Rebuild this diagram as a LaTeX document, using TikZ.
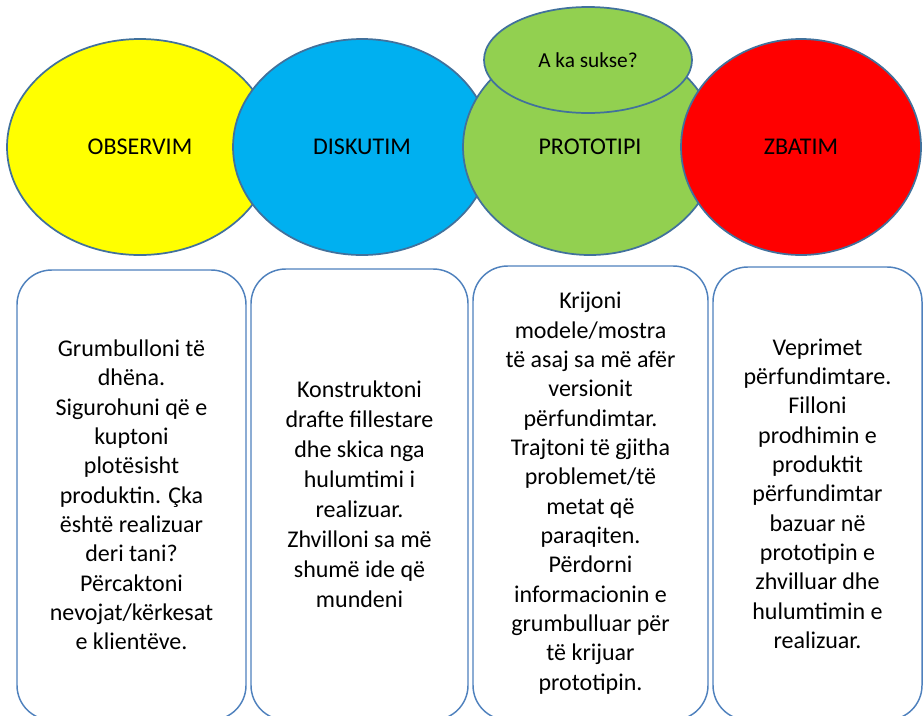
\documentclass[tikz,border=0pt]{standalone}
\usepackage{fontspec}
\setmainfont{Carlito}
\usetikzlibrary{shapes.geometric}

\definecolor{edgeblue}{RGB}{65,113,156}
\definecolor{boxblue}{RGB}{79,129,189}
\definecolor{fillyellow}{RGB}{255,255,0}
\definecolor{fillblue}{RGB}{0,176,240}
\definecolor{fillgreen}{RGB}{146,208,80}
\definecolor{fillred}{RGB}{255,0,0}

\tikzset{
  stage/.style={ellipse, draw=edgeblue, line width=1.3pt, inner sep=0pt,
    font=\fontsize{18}{22}\selectfont, text=black},
  stepcard/.style={draw=boxblue, line width=1.1pt, rounded corners=26pt,
    fill=white, inner sep=0pt, align=center, text=black,
    font=\fontsize{18}{22}\selectfont},
}

\begin{document}
\begin{tikzpicture}[x=0.75pt, y=-0.75pt]
  \useasboundingbox (0,0) rectangle (923,715);
  \clip (0,0) rectangle (923,715);

  % stage ellipses, later ones overlap earlier ones
  \node[stage, fill=fillyellow, minimum width={266*0.75pt}, minimum height={216*0.75pt}]
    (obs) at (140,147) {OBSERVIM};
  \node[stage, fill=fillblue, minimum width={258*0.75pt}, minimum height={216*0.75pt}]
    (dis) at (362,147) {DISKUTIM};
  \node[stage, fill=fillgreen, minimum width={254*0.75pt}, minimum height={216*0.75pt}]
    (pro) at (590,147) {PROTOTIPI};
  \node[stage, fill=fillgreen, minimum width={208*0.75pt}, minimum height={106*0.75pt},
    font=\fontsize{16}{19}\selectfont]
    (suk) at (588,60) {A ka sukse?};
  \node[stage, fill=fillred, minimum width={240*0.75pt}, minimum height={216*0.75pt}]
    (zba) at (801,147) {ZBATIM};

  % description cards
  \node[stepcard, minimum width={229*0.75pt}, minimum height={450*0.75pt}]
    (c1) at (131.5,495) {%
    Grumbulloni të\\ dhëna.\\ Sigurohuni që e\\ kuptoni\\ plotësisht\\
    produktin. Çka\\ është realizuar\\ deri tani?\\ Përcaktoni\\
    nevojat/kërkesat\\ e klientëve.};
  \node[stepcard, minimum width={217*0.75pt}, minimum height={451*0.75pt},
    font=\fontsize{18}{22.5}\selectfont] (c2) at (359.5,494.5) {%
    Konstruktoni\\ drafte fillestare\\ dhe skica nga\\ hulumtimi i\\ realizuar.\\
    Zhvilloni sa më\\ shumë ide që\\ mundeni};
  \node[stepcard, minimum width={235*0.75pt}, minimum height={454*0.75pt}]
    (c3) at (590.5,493) {%
    Krijoni\\ modele/mostra\\ të asaj sa më afër\\ versionit\\ përfundimtar.\\
    Trajtoni të gjitha\\ problemet/të\\ metat që\\ paraqiten.\\ Përdorni\\
    informacionin e\\ grumbulluar për\\ të krijuar\\ prototipin.};
  \node[stepcard, minimum width={209*0.75pt}, minimum height={453*0.75pt}]
    (c4) at (817.5,493.5) {%
    Veprimet\\ përfundimtare.\\ Filloni\\ prodhimin e\\ produktit\\
    përfundimtar\\ bazuar në\\ prototipin e\\ zhvilluar dhe\\ hulumtimin e\\
    realizuar.};
\end{tikzpicture}
\end{document}
